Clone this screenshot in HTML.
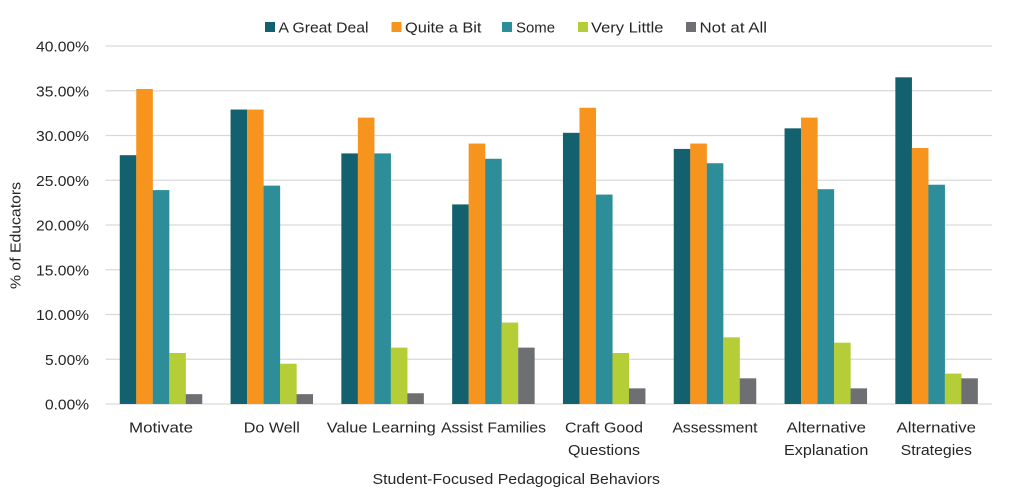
<!DOCTYPE html>
<html>
<head>
<meta charset="utf-8">
<style>
html,body{margin:0;padding:0;background:#fff;}
svg{display:block;}
text{font-family:"Liberation Sans",Arial,sans-serif;fill:#262626;font-size:15px;}
</style>
</head>
<body>
<svg width="1024" height="492" viewBox="0 0 1024 492" xmlns="http://www.w3.org/2000/svg">
<rect width="1024" height="492" fill="#fff"/>
<!-- gridlines -->
<g stroke="#d9d9d9" stroke-width="1.2">
<line x1="105.6" y1="46" x2="992" y2="46"/>
<line x1="105.6" y1="90.75" x2="992" y2="90.75"/>
<line x1="105.6" y1="135.5" x2="992" y2="135.5"/>
<line x1="105.6" y1="180.25" x2="992" y2="180.25"/>
<line x1="105.6" y1="225" x2="992" y2="225"/>
<line x1="105.6" y1="269.75" x2="992" y2="269.75"/>
<line x1="105.6" y1="314.5" x2="992" y2="314.5"/>
<line x1="105.6" y1="359.25" x2="992" y2="359.25"/>
<line x1="105.6" y1="404" x2="992" y2="404"/>
</g>
<!-- y tick labels -->
<g text-anchor="end" font-size="15.5">
<text x="89" y="51.5" textLength="53" lengthAdjust="spacingAndGlyphs">40.00%</text>
<text x="89" y="96.25" textLength="53" lengthAdjust="spacingAndGlyphs">35.00%</text>
<text x="89" y="141" textLength="53" lengthAdjust="spacingAndGlyphs">30.00%</text>
<text x="89" y="185.75" textLength="53" lengthAdjust="spacingAndGlyphs">25.00%</text>
<text x="89" y="230.5" textLength="53" lengthAdjust="spacingAndGlyphs">20.00%</text>
<text x="89" y="275.25" textLength="53" lengthAdjust="spacingAndGlyphs">15.00%</text>
<text x="89" y="320" textLength="53" lengthAdjust="spacingAndGlyphs">10.00%</text>
<text x="89" y="364.75" textLength="44" lengthAdjust="spacingAndGlyphs">5.00%</text>
<text x="89" y="409.5" textLength="44" lengthAdjust="spacingAndGlyphs">0.00%</text>
</g>
<!-- y axis title -->
<text transform="translate(20.5,235.5) rotate(-90)" text-anchor="middle" textLength="107" lengthAdjust="spacingAndGlyphs">% of Educators</text>

<!-- bars: A Great Deal -->
<g fill="#13606e">
<rect x="119.75" y="155.19" width="16.6" height="248.81"/>
<rect x="230.55" y="109.54" width="16.6" height="294.46"/>
<rect x="341.35" y="153.4" width="16.6" height="250.6"/>
<rect x="452.15" y="204.41" width="16.6" height="199.59"/>
<rect x="562.95" y="132.81" width="16.6" height="271.19"/>
<rect x="673.75" y="148.92" width="16.6" height="255.08"/>
<rect x="784.55" y="128.34" width="16.6" height="275.66"/>
<rect x="895.35" y="77.32" width="16.6" height="326.68"/>
</g>
<!-- Quite a Bit -->
<g fill="#f7941e">
<rect x="136.25" y="88.96" width="16.6" height="315.04"/>
<rect x="247.05" y="109.54" width="16.6" height="294.46"/>
<rect x="357.85" y="117.6" width="16.6" height="286.4"/>
<rect x="468.65" y="143.55" width="16.6" height="260.45"/>
<rect x="579.45" y="107.75" width="16.6" height="296.25"/>
<rect x="690.25" y="143.55" width="16.6" height="260.45"/>
<rect x="801.05" y="117.6" width="16.6" height="286.4"/>
<rect x="911.85" y="148.03" width="16.6" height="255.97"/>
</g>
<!-- Some -->
<g fill="#2d8e99">
<rect x="152.75" y="190.09" width="16.6" height="213.91"/>
<rect x="263.55" y="185.62" width="16.6" height="218.38"/>
<rect x="374.35" y="153.4" width="16.6" height="250.6"/>
<rect x="485.15" y="158.77" width="16.6" height="245.23"/>
<rect x="595.95" y="194.57" width="16.6" height="209.43"/>
<rect x="706.75" y="163.24" width="16.6" height="240.76"/>
<rect x="817.55" y="189.2" width="16.6" height="214.8"/>
<rect x="928.35" y="184.72" width="16.6" height="219.28"/>
</g>
<!-- Very Little -->
<g fill="#b5cd36">
<rect x="169.25" y="352.98" width="16.6" height="51.02"/>
<rect x="280.05" y="363.72" width="16.6" height="40.28"/>
<rect x="390.85" y="347.61" width="16.6" height="56.39"/>
<rect x="501.65" y="322.55" width="16.6" height="81.45"/>
<rect x="612.45" y="352.98" width="16.6" height="51.02"/>
<rect x="723.25" y="337.32" width="16.6" height="66.68"/>
<rect x="834.05" y="342.69" width="16.6" height="61.31"/>
<rect x="944.85" y="373.57" width="16.6" height="30.43"/>
</g>
<!-- Not at All -->
<g fill="#6e6f72">
<rect x="185.75" y="394.15" width="16.5" height="9.85"/>
<rect x="296.55" y="394.15" width="16.5" height="9.85"/>
<rect x="407.35" y="393.26" width="16.5" height="10.74"/>
<rect x="518.15" y="347.61" width="16.5" height="56.39"/>
<rect x="628.95" y="388.34" width="16.5" height="15.66"/>
<rect x="739.75" y="378.31" width="16.5" height="25.69"/>
<rect x="850.55" y="388.34" width="16.5" height="15.66"/>
<rect x="961.35" y="378.31" width="16.5" height="25.69"/>
</g>

<!-- category labels -->
<g text-anchor="middle">
<text x="161" y="432.5" textLength="64" lengthAdjust="spacingAndGlyphs">Motivate</text>
<text x="271.8" y="432.5" textLength="56" lengthAdjust="spacingAndGlyphs">Do Well</text>
<text x="381.3" y="432.5" textLength="109" lengthAdjust="spacingAndGlyphs">Value Learning</text>
<text x="493.5" y="432.5" textLength="105" lengthAdjust="spacingAndGlyphs">Assist Families</text>
<text x="604" y="432.5" textLength="78" lengthAdjust="spacingAndGlyphs">Craft Good</text>
<text x="604" y="455" textLength="72" lengthAdjust="spacingAndGlyphs">Questions</text>
<text x="715" y="432.5" textLength="85" lengthAdjust="spacingAndGlyphs">Assessment</text>
<text x="826.3" y="432.5" textLength="79.5" lengthAdjust="spacingAndGlyphs">Alternative</text>
<text x="826.2" y="455" textLength="84.3" lengthAdjust="spacingAndGlyphs">Explanation</text>
<text x="936.3" y="432.5" textLength="79.5" lengthAdjust="spacingAndGlyphs">Alternative</text>
<text x="936.3" y="455" textLength="71.3" lengthAdjust="spacingAndGlyphs">Strategies</text>
</g>
<!-- x axis title -->
<text x="372.5" y="484" textLength="287.5" lengthAdjust="spacingAndGlyphs">Student-Focused Pedagogical Behaviors</text>

<!-- legend -->
<rect x="265" y="22" width="10" height="10" fill="#13606e"/>
<text x="278.5" y="32.5" textLength="90" lengthAdjust="spacingAndGlyphs">A Great Deal</text>
<rect x="391.5" y="22" width="10" height="10" fill="#f7941e"/>
<text x="405" y="32.5" textLength="76.5" lengthAdjust="spacingAndGlyphs">Quite a Bit</text>
<rect x="502" y="22" width="10" height="10" fill="#2d8e99"/>
<text x="516" y="32.5" textLength="39" lengthAdjust="spacingAndGlyphs">Some</text>
<rect x="578" y="22" width="10" height="10" fill="#b5cd36"/>
<text x="591" y="32.5" textLength="72.5" lengthAdjust="spacingAndGlyphs">Very Little</text>
<rect x="686" y="22" width="10" height="10" fill="#6e6f72"/>
<text x="699.5" y="32.5" textLength="67.5" lengthAdjust="spacingAndGlyphs">Not at All</text>
</svg>
</body>
</html>
